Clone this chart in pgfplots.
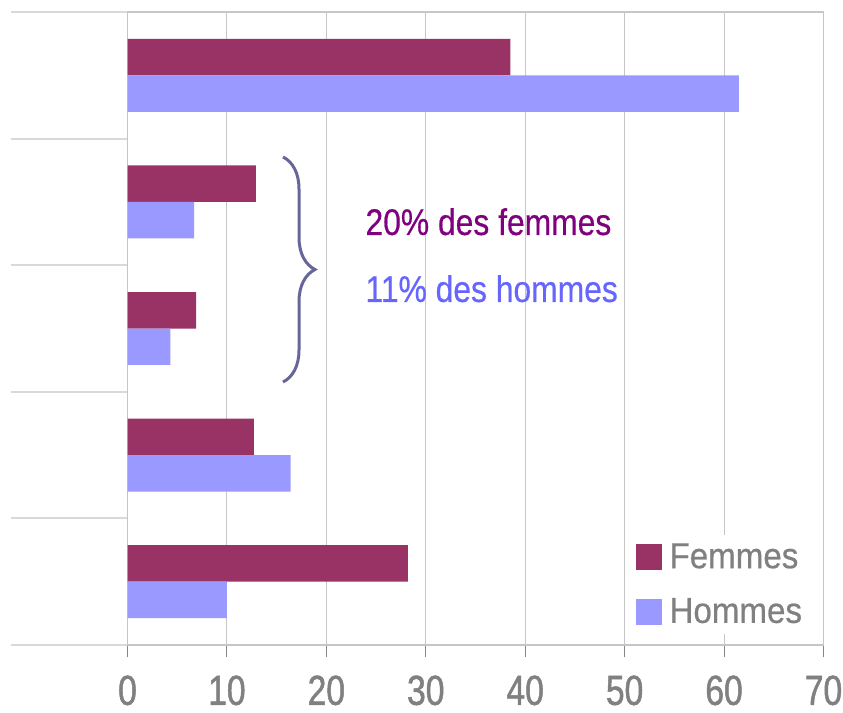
\documentclass[border=0pt]{standalone}
\usepackage{fontspec}
\setmainfont{Liberation Sans}
\newfontfamily\ticknarrow{Liberation Sans}[FakeStretch=0.8, FakeBold=1.2]
\newfontfamily\legnarrow{Liberation Sans}[FakeStretch=0.92, FakeBold=0.6]
\newfontfamily\annfont{Liberation Sans}[FakeStretch=0.86, FakeBold=0.5]
\usepackage{pgfplots}
\pgfplotsset{compat=1.18}
\usetikzlibrary{decorations.pathreplacing}
\definecolor{femcol}{HTML}{993366}
\definecolor{homcol}{HTML}{9999FF}
\definecolor{txtgray}{HTML}{808080}
\definecolor{gridcol}{HTML}{C6C6C6}
\definecolor{axcol}{HTML}{868686}
\definecolor{sepcol}{HTML}{D9D9D9}
\definecolor{fentxt}{HTML}{800080}
\definecolor{homtxt}{HTML}{6666FF}
\definecolor{bracecol}{HTML}{666699}
\begin{document}
\begin{tikzpicture}
\useasboundingbox (0,0) rectangle (421.5bp,356.5bp);
\begin{axis}[
  at={(63.75bp,34bp)}, anchor=south west,
  width=348bp, height=316.5bp, scale only axis,
  xmin=0, xmax=70, ymin=-0.5, ymax=4.5,
  xtick={0,10,...,70},
  ytick={-0.5,0.5,1.5,2.5,3.5,4.5},
  yticklabels={},
  tick align=outside,
  xtick pos=bottom, ytick pos=left,
  xtick style={draw=axcol, line width=0.5bp, /pgfplots/major tick length=6bp},
  ytick style={draw=sepcol, line width=1bp, /pgfplots/major tick length=58.5bp},
  xmajorgrids, major grid style={draw=gridcol, line width=0.5bp},
  axis line style={draw=gridcol, line width=0.75bp},
  x axis line style={draw=axcol},
  /pgf/number format/assume math mode=true,
  xticklabel style={font=\ticknarrow\fontsize{21bp}{24bp}\selectfont, text=txtgray, yshift=-7.5bp},
  clip=false,
  xbar, bar width=0.288,
  legend cell align=left,
  legend style={at={(0.987,0.017)}, anchor=south east, fill=white, draw=none,
     font=\legnarrow\fontsize{18bp}{22bp}\selectfont, text=txtgray,
     row sep=9.5bp, inner sep=2bp,
     nodes={inner xsep=4bp}},
  legend image code/.code={\fill[#1] (0bp,-6.5bp) rectangle (13bp,6.5bp);},
]
\addplot[fill=femcol, draw=none, bar shift=0.144] coordinates {
  (28.2,0) (12.7,1) (6.9,2) (12.9,3) (38.5,4)};
\addplot[fill=homcol, draw=none, bar shift=-0.144] coordinates {
  (10.0,0) (16.4,1) (4.3,2) (6.7,3) (61.5,4)};
\legend{Femmes, Hommes}
\draw[decorate, decoration={brace, amplitude=16bp}, draw=bracecol, line width=1.5bp]
  (axis cs:15.64,3.355) -- (axis cs:15.64,1.577);
\node[anchor=base west, inner sep=0, text=fentxt, font=\annfont\fontsize{18.5bp}{22bp}\selectfont]
  at (axis cs:23.9,2.739) {20\% des femmes};
\node[anchor=base west, inner sep=0, text=homtxt, font=\annfont\fontsize{18.5bp}{22bp}\selectfont]
  at (axis cs:23.9,2.21) {11\% des hommes};
\end{axis}
\end{tikzpicture}
\end{document}
